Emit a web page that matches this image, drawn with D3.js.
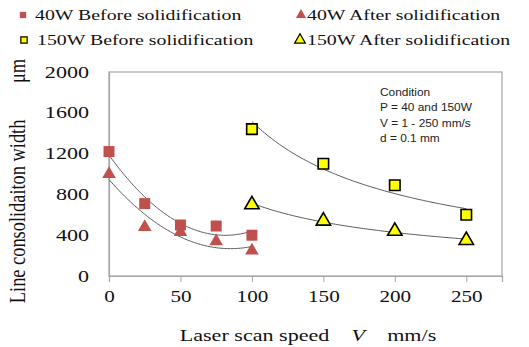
<!DOCTYPE html>
<html>
<head>
<meta charset="utf-8">
<script src="https://cdn.jsdelivr.net/npm/d3@7"></script>
<style>
  html, body { margin: 0; padding: 0; background: #fff; }
  svg { display: block; }
</style>
</head>
<body>
<svg id="chart" width="529" height="347"></svg>
<script>
// Laser scan speed (mm/s) and measured line widths (μm)
const speed40 = [0, 25, 50, 75, 100];
const before40 = [1220, 710, 500, 490, 400];
const after40 = [1000, 480, 430, 340, 250];
const speed150 = [100, 150, 200, 250];
const before150 = [1440, 1100, 890, 600];
const after150 = [700, 540, 440, 350];
const xTicks = [0, 50, 100, 150, 200, 250];
const yTicks = [0, 400, 800, 1200, 1600, 2000];
const legendLabels = ["40W Before solidification", "40W After solidification",
                      "150W Before solidification", "150W After solidification"];
const conditionLines = ["Condition", "P = 40 and 150W", "V = 1 - 250 mm/s", "d = 0.1 mm"];

const RED = "#c0504d", YELLOW = "#ffff00";
const SERIF = "'Liberation Serif', 'Times New Roman', serif";
const SANS = "'Liberation Sans', Arial, sans-serif";
const WIDE = 1.38; // horizontal text stretch

const svg = d3.select("#chart");
const m = { left: 109, top: 72, right: 502, bottom: 276 };

const x = d3.scaleLinear().domain([0, 275]).range([m.left, m.right]);
const y = d3.scaleLinear().domain([0, 2000]).range([m.bottom, m.top]);

function stretch(sel, k) {
  sel.each(function () {
    const len = this.getComputedTextLength();
    d3.select(this).attr("textLength", len * k).attr("lengthAdjust", "spacingAndGlyphs");
  });
}

// plot frame
svg.append("rect")
  .attr("x", m.left).attr("y", m.top)
  .attr("width", m.right - m.left).attr("height", m.bottom - m.top)
  .attr("fill", "none").attr("stroke", "#a6a6a6").attr("stroke-width", 1.2);

// x axis
const xAxis = svg.append("g")
  .attr("transform", `translate(0,${m.bottom})`)
  .call(d3.axisBottom(x).tickValues(xTicks).tickSize(6).tickPadding(6).tickFormat(d3.format("d")));
xAxis.select(".domain").attr("stroke", "#a6a6a6").attr("stroke-width", 1.2);
xAxis.selectAll(".tick line").attr("stroke", "#a6a6a6");
xAxis.selectAll(".tick text")
  .attr("font-family", SERIF).attr("font-size", 16).attr("fill", "#111").attr("dy", "0.85em")
  .call(stretch, 1.32);

// y axis
const yAxis = svg.append("g")
  .attr("transform", `translate(${m.left},0)`)
  .call(d3.axisLeft(y).tickValues(yTicks).tickSize(0).tickPadding(20).tickFormat(d3.format("d")));
yAxis.select(".domain").attr("stroke", "#a6a6a6").attr("stroke-width", 1.2);
yAxis.selectAll(".tick text")
  .attr("font-family", SERIF).attr("font-size", 16).attr("fill", "#111")
  .call(stretch, WIDE);

// axis titles
const xt = svg.append("text")
  .attr("x", 308).attr("y", 341).attr("text-anchor", "middle")
  .attr("font-family", SERIF).attr("font-size", 17).attr("fill", "#111");
xt.append("tspan").text("Laser scan speed\u2002\u2002");
xt.append("tspan").attr("font-style", "italic").text("V");
xt.append("tspan").text("\u2002\u2002mm/s");
xt.call(stretch, 1.3);

svg.append("text")
  .attr("transform", "translate(25,181) scale(1.3,1) rotate(-90)")
  .attr("text-anchor", "middle")
  .attr("font-family", SERIF).attr("font-size", 17).attr("fill", "#111")
  .text("Line consolidaiton width\u2003\u2003μm")
  .call(stretch, 1.08);

// trend lines: quadratic for 40 W, power law for 150 W
function quadFit(xs, ys) {
  const n = xs.length;
  let s = [0, 0, 0, 0, 0], t = [0, 0, 0];
  for (let i = 0; i < n; i++) {
    for (let p = 0; p < 5; p++) s[p] += Math.pow(xs[i], p);
    for (let p = 0; p < 3; p++) t[p] += ys[i] * Math.pow(xs[i], p);
  }
  const A = [[s[0], s[1], s[2], t[0]], [s[1], s[2], s[3], t[1]], [s[2], s[3], s[4], t[2]]];
  for (let c = 0; c < 3; c++) {
    for (let r = c + 1; r < 3; r++) {
      const f = A[r][c] / A[c][c];
      for (let k = c; k < 4; k++) A[r][k] -= f * A[c][k];
    }
  }
  const b = [0, 0, 0];
  for (let r = 2; r >= 0; r--) {
    let v = A[r][3];
    for (let k = r + 1; k < 3; k++) v -= A[r][k] * b[k];
    b[r] = v / A[r][r];
  }
  return v => b[0] + b[1] * v + b[2] * v * v;
}
function powerFit(xs, ys) {
  const lx = xs.map(Math.log), ly = ys.map(Math.log);
  const mx = d3.mean(lx), my = d3.mean(ly);
  const slope = d3.sum(lx, (v, i) => (v - mx) * (ly[i] - my)) / d3.sum(lx, v => (v - mx) ** 2);
  const a = Math.exp(my - slope * mx);
  return v => a * Math.pow(v, slope);
}

const line = d3.line().x(d => x(d[0])).y(d => y(d[1]));
function drawTrend(xs, ys, fit) {
  const f = fit(xs, ys);
  const lo = d3.min(xs), hi = d3.max(xs);
  const pts = d3.range(0, 101).map(i => { const v = lo + (hi - lo) * i / 100; return [v, f(v)]; });
  svg.append("path").attr("d", line(pts))
    .attr("fill", "none").attr("stroke", "#5a5a5a").attr("stroke-width", 1);
}
drawTrend(speed40, before40, quadFit);
drawTrend(speed40, after40, quadFit);
drawTrend(speed150, before150, powerFit);
drawTrend(speed150, after150, powerFit);

// markers
const sq = d3.symbol().type(d3.symbolSquare);
const tri = d3.symbol().type(d3.symbolTriangle);
function drawPoints(xs, ys, gen, size, fill, stroke, sw) {
  svg.append("g").selectAll("path").data(xs).join("path")
    .attr("transform", (d, i) => `translate(${x(d)},${y(ys[i])})`)
    .attr("d", gen.size(size)())
    .attr("fill", fill).attr("stroke", stroke).attr("stroke-width", sw);
}
drawPoints(speed40, before40, sq, 121, RED, "none", 0);
drawPoints(speed40, after40, tri, 80, RED, "none", 0);
drawPoints(speed150, before150, sq, 110, YELLOW, "#000", 1.6);
drawPoints(speed150, after150, tri, 90, YELLOW, "#000", 1.6);

// condition note
svg.append("g").selectAll("text").data(conditionLines).join("text")
  .attr("x", 380).attr("y", (d, i) => 96 + i * 15.3)
  .attr("font-family", SANS).attr("font-size", 11).attr("fill", "#222")
  .text(d => d)
  .call(stretch, 1.08);

// legend
const legendItems = [
  { label: legendLabels[0], gen: sq, size: 40, fill: RED, stroke: "none", mx: 23, tx: 35, ty: 20 },
  { label: legendLabels[1], gen: tri, size: 45, fill: RED, stroke: "none", mx: 301, tx: 307, ty: 20 },
  { label: legendLabels[2], gen: sq, size: 40, fill: YELLOW, stroke: "#000", mx: 24, tx: 37, ty: 45 },
  { label: legendLabels[3], gen: tri, size: 50, fill: YELLOW, stroke: "#000", mx: 300, tx: 307, ty: 45 }
];
const lg = svg.append("g");
legendItems.forEach(it => {
  lg.append("path")
    .attr("transform", `translate(${it.mx},${it.ty - 5})`)
    .attr("d", it.gen.size(it.size)())
    .attr("fill", it.fill).attr("stroke", it.stroke).attr("stroke-width", 1.2);
  lg.append("text")
    .attr("x", it.tx).attr("y", it.ty)
    .attr("font-family", SERIF).attr("font-size", 15).attr("fill", "#111")
    .text(it.label)
    .call(stretch, 1.32);
});
</script>
</body>
</html>
